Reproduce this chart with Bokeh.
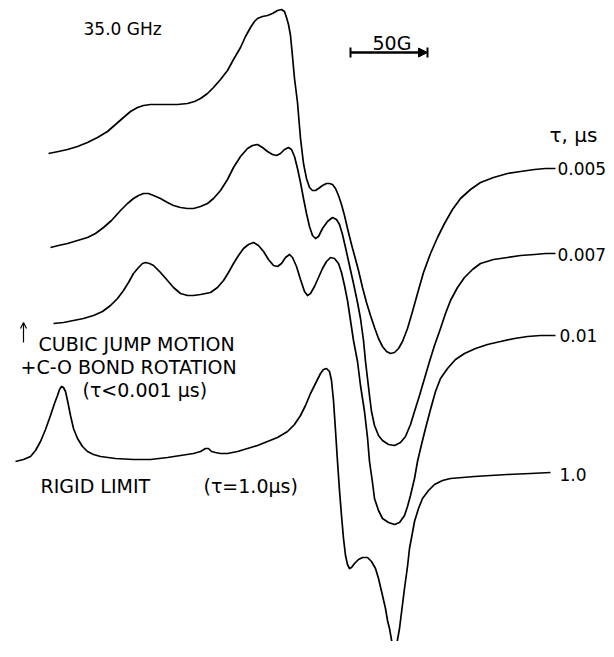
from bokeh.plotting import figure
from bokeh.models import Range1d, Arrow, NormalHead, OpenHead
from bokeh.core.properties import value
from bokeh.embed import file_html
from bokeh.resources import INLINE

# Simulated 35.0 GHz EPR spectra; x = field position, y = derivative signal (drawn downward)
x_005 = [48,58,67,77,87,97,107,115,123,130,137,143,150,158,167,177,187,194,200,207,
         213,220,227,233,240,245,250,254,257,262,267,272,277,281,284,286,288,290,292,294,
         297,300,303,306,309,312,315,318,322,326,329,332,335,338,341,344,347,351,354,358,
         362,366,370,374,378,382,386,390,394,398,402,407,412,417,423,430,437,444,452,460,
         470,480,493,507,520,534,545,555]
y_005 = [153,151,149,146,142,137,131,124,117,111,107,105,104,104,104,104,103,101,98,93,
         87,79,70,59,47,36,27,21,18,16,15,13,10,9,11,17,24,35,56,78,
         102,138,163,178,187,190,190,188,185,183,183,184,188,195,204,215,228,244,255,270,
         287,302,315,327,338,346,351,353,352,348,341,328,311,293,272,253,237,223,209,198,
         189,182,177,173,171,169,168,168]

x_007 = [50,58,67,77,87,95,103,111,120,127,133,138,143,148,153,160,167,173,180,187,
         193,200,207,213,220,227,233,240,247,252,257,262,267,272,276,280,284,288,291,294,
         297,300,303,306,309,312,315,318,322,327,332,336,339,342,345,349,353,357,360,363,
         365,367,369,371,374,378,382,388,394,400,405,410,414,419,424,429,434,440,445,450,
         457,464,472,480,493,507,520,534,545,555]
y_007 = [247,245,243,240,237,233,227,220,210,203,198,195,193,193,195,198,202,205,207,208,
         208,206,203,198,190,179,167,156,148,145,144,147,151,154,155,153,149,147,149,156,
         168,182,198,213,226,235,238,236,228,221,217,219,224,234,247,265,283,302,318,340,
         361,378,395,411,425,435,440,444,445,442,436,424,411,395,378,361,345,328,313,300,
         287,277,269,263,259,257,255,254,253,253]

x_01 = [53,63,73,83,93,102,110,117,123,128,133,138,142,145,149,153,160,167,173,180,
        187,193,200,210,217,223,228,233,238,243,248,253,258,263,268,273,277,281,285,289,
        292,296,300,304,307,310,314,318,322,326,330,334,338,341,344,347,350,353,357,360,
        364,367,369,372,374,378,382,388,394,399,404,407,410,414,417,421,425,430,435,440,
        447,455,464,475,487,500,514,527,540,555]
y_01 = [323,322,320,318,315,311,305,298,290,282,273,267,263,262,263,265,272,280,287,293,
        295,295,294,292,287,280,272,263,255,248,244,242,245,251,259,265,266,263,257,254,
        257,266,279,291,295,293,286,277,268,261,257,258,263,272,285,300,320,340,361,385,
        411,437,461,482,498,510,518,522,524,522,515,506,495,478,461,444,428,409,391,378,
        368,359,353,348,344,341,338,336,335,335]

x_10 = [15,23,30,35,40,45,50,54,57,59,61,63,65,67,70,73,77,82,87,93,
        100,115,133,150,167,180,193,200,205,208,211,215,220,227,237,247,257,267,277,287,
        294,300,305,310,315,320,323,326,329,331,333,335,337,339,341,343,345,347,349,351,
        354,358,362,367,371,375,378,382,385,387,389,392,394,396,399,401,404,407,409,
        412,414,418,422,428,434,442,450,462,474,490,507,530,550]
y_10 = [461,459,456,450,441,429,415,403,395,389,386,387,391,400,415,428,438,446,451,454,
        456,458,459,459,457,455,453,451,448,448,451,452,453,453,451,448,445,441,437,431,
        424,415,405,393,383,373,369,368,371,380,400,430,461,490,515,538,555,564,568,567,
        563,559,557,557,561,568,578,595,608,620,628,645,656,645,628,612,588,566,548,
        532,521,508,498,490,484,480,478,477,476,475,474,473,472]

tau_labels = ["0.005", "0.007", "0.01", "1.0"]
series = [(x_005, y_005), (x_007, y_007), (x_01, y_01), (x_10, y_10)]

FONT = value("DejaVu Sans")

p = figure(width=606, height=641, x_range=Range1d(0, 606), y_range=Range1d(641, 0),
           output_backend="svg", toolbar_location=None, min_border=0,
           x_axis_location=None, y_axis_location=None)
p.grid.visible = False
p.outline_line_color = None
p.background_fill_color = "white"
p.border_fill_color = "white"

for xs, ys in series:
    p.line(xs, ys, line_color="black", line_width=1.7, line_join="round")

# tau labels at the right end of each trace
label_x = [557, 557, 559, 559]
label_y = [168, 254, 335, 474]
for lx, ly, t in zip(label_x, label_y, tau_labels):
    p.text(x=[lx], y=[ly], text=[t], text_font=FONT, text_font_size="17px",
           text_baseline="middle", text_align="left", text_color="black")

def label(x, y, t, size="19px", baseline="middle"):
    p.text(x=[x], y=[y], text=[t], text_font=FONT, text_font_size=size,
           text_baseline=baseline, text_align="left", text_color="black")

label(83, 28, "35.0 GHz", "17px")
label(549, 134, "\u03c4, \u03bcs", "20px", "alphabetic")
label(372, 42, "50G", "19px")
label(38, 343, "CUBIC JUMP MOTION")
label(20, 366, "+C-O BOND ROTATION")
label(82, 389, "(\u03c4<0.001 \u03bcs)")
label(40, 485, "RIGID LIMIT")
label(203, 485, "(\u03c4=1.0\u03bcs)")

# 50 G scale bar
p.add_layout(Arrow(end=NormalHead(size=9, fill_color="black", line_color="black"),
                   x_start=350, y_start=52, x_end=427, y_end=52,
                   line_width=2.5, line_color="black"))
p.segment(x0=[350, 427], y0=[47, 47], x1=[350, 427], y1=[57, 57],
          line_color="black", line_width=2)

# upward arrow next to the motion label
p.add_layout(Arrow(end=OpenHead(size=6, line_width=1.2, line_color="black"),
                   x_start=23, y_start=342, x_end=23, y_end=322,
                   line_width=1.2, line_color="black"))

open("out.html", "w").write(file_html(p, INLINE))
